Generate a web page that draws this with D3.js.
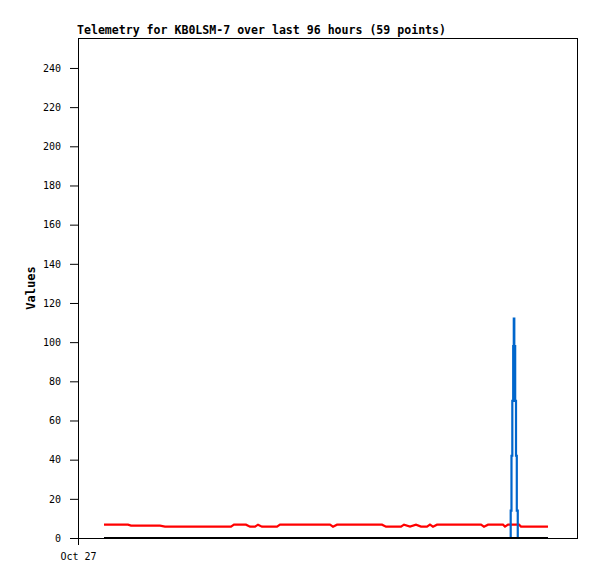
<!DOCTYPE html>
<html>
<head>
<meta charset="utf-8">
<script src="https://cdn.jsdelivr.net/npm/d3@7"></script>
<style>
  body { margin: 0; background: #fff; }
  svg { display: block; }
</style>
</head>
<body>
<svg id="chart"></svg>
<script>
// hours since Oct 27 00:00 for each sample
const hours = [
  5.63, 7.36, 9.09, 10.82, 11.47, 13.42, 15.58, 17.75, 18.83, 22.08,
  25.32, 28.57, 31.82, 33.11, 33.76, 36.36, 37.23, 38.31, 38.96, 39.82,
  43.07, 43.72, 52.38, 54.54, 55.19, 56.06, 61.03, 65.80, 66.66, 69.91,
  70.56, 71.86, 73.15, 74.24, 75.53, 76.18, 76.83, 77.70, 87.22, 87.87,
  88.74, 91.98, 92.42, 93.07, 93.50, 93.65, 93.82, 94.00, 94.19, 94.32,
  94.43, 94.62, 94.80, 94.97, 95.18, 95.45, 95.88, 98.91, 101.72
];
const redValues = [
  6.8, 6.8, 6.8, 6.8, 6.3, 6.3, 6.3, 6.3, 5.8, 5.8,
  5.8, 5.8, 5.8, 5.8, 6.8, 6.8, 5.8, 5.8, 6.8, 5.8,
  5.8, 6.8, 6.8, 6.8, 5.8, 6.8, 6.8, 6.8, 5.8, 5.8,
  6.8, 5.8, 6.8, 5.8, 5.8, 6.8, 5.8, 6.8, 6.8, 5.8,
  6.8, 6.8, 5.8, 6.8, 6.8, 6.8, 6.8, 6.8, 6.8, 6.8,
  6.8, 6.8, 6.8, 6.8, 6.8, 6.8, 5.8, 5.8, 5.8
];
const blueValues = [
  0, 0, 0, 0, 0, 0, 0, 0, 0, 0,
  0, 0, 0, 0, 0, 0, 0, 0, 0, 0,
  0, 0, 0, 0, 0, 0, 0, 0, 0, 0,
  0, 0, 0, 0, 0, 0, 0, 0, 0, 0,
  0, 0, 0, 0, 0, 14, 42, 70, 98, 112,
  98, 70, 42, 14, 0, 0, 0, 0, 0
];
const blackValues = [
  0, 0, 0, 0, 0, 0, 0, 0, 0, 0,
  0, 0, 0, 0, 0, 0, 0, 0, 0, 0,
  0, 0, 0, 0, 0, 0, 0, 0, 0, 0,
  0, 0, 0, 0, 0, 0, 0, 0, 0, 0,
  0, 0, 0, 0, 0, 0, 0, 0, 0, 0,
  0, 0, 0, 0, 0, 0, 0, 0, 0
];
const yTicks = [0, 20, 40, 60, 80, 100, 120, 140, 160, 180, 200, 220, 240];
const xTickLabels = ["Oct 27"];

const W = 597, H = 579;
const margin = { top: 38, right: 20, bottom: 41, left: 78 };
const iw = W - margin.left - margin.right;
const ih = H - margin.top - margin.bottom;

const start = new Date(2023, 9, 27, 0, 0);
const toDate = h => new Date(start.getTime() + h * 3600e3);

const svg = d3.select("#chart").attr("width", W).attr("height", H);

const x = d3.scaleTime()
  .domain([start, toDate(108)])
  .range([0, iw]);
const y = d3.scaleLinear()
  .domain([0, 255.3])
  .range([ih, 0]);

const g = svg.append("g").attr("transform", `translate(${margin.left},${margin.top})`);

// frame
g.append("rect")
  .attr("x", 0.5).attr("y", 0.5)
  .attr("width", iw).attr("height", ih)
  .attr("fill", "none").attr("stroke", "#000");

const yAxis = g.append("g")
  .call(d3.axisLeft(y).tickValues(yTicks).tickSize(8).tickSizeOuter(0)
    .tickPadding(9).tickFormat(d3.format("d")));
const parseTick = d3.timeParse("%b %d %Y");
const xAxis = g.append("g")
  .attr("transform", `translate(0,${ih})`)
  .call(d3.axisBottom(x)
    .tickValues(xTickLabels.map(s => parseTick(s + " 2023")))
    .tickSize(7).tickSizeOuter(0).tickPadding(8)
    .tickFormat(d3.timeFormat("%b %d")));

[yAxis, xAxis].forEach(a => {
  a.selectAll("text")
    .attr("font-family", "'DejaVu Sans Mono', monospace")
    .attr("font-size", 10)
    .attr("fill", "#000");
  a.selectAll("line, path").attr("stroke", "#000");
});

const series = [
  { values: redValues, color: "#ff0000", curve: d3.curveLinear },
  { values: blueValues, color: "#0066cc", curve: d3.curveStepAfter },
  { values: blackValues, color: "#000000", curve: d3.curveLinear }
];

series.forEach(s => {
  const pts = hours.map((h, i) => ({ t: toDate(h), v: s.values[i] }));
  const line = d3.line()
    .curve(s.curve)
    .x(d => x(d.t))
    .y(d => y(d.v));
  g.append("path")
    .datum(pts)
    .attr("fill", "none")
    .attr("stroke", s.color)
    .attr("stroke-width", 2.2)
    .attr("d", line);
});

// title
svg.append("text")
  .attr("x", 77).attr("y", 33.5)
  .attr("font-family", "'DejaVu Sans Mono', monospace")
  .attr("font-weight", "bold")
  .attr("font-size", 11.4)
  .attr("textLength", 369)
  .attr("lengthAdjust", "spacingAndGlyphs")
  .text("Telemetry for KB0LSM-7 over last 96 hours (59 points)");

// y label
svg.append("text")
  .attr("transform", `translate(35,${margin.top + ih / 2}) rotate(-90)`)
  .attr("text-anchor", "middle")
  .attr("font-family", "'DejaVu Sans Mono', monospace")
  .attr("font-weight", "bold")
  .attr("font-size", 12)
  .text("Values");
</script>
</body>
</html>
